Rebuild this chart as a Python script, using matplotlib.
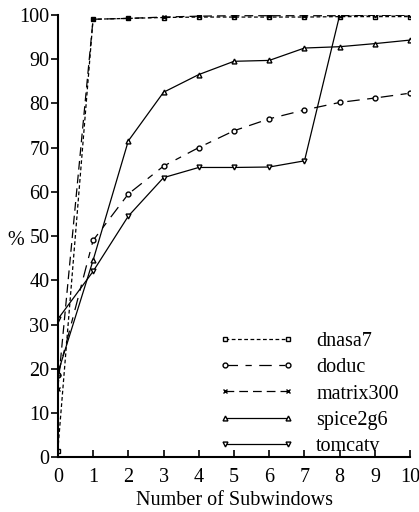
import matplotlib
matplotlib.use("Agg")
import matplotlib.pyplot as plt

plt.rcParams['font.family'] = ['Liberation Serif', 'DejaVu Serif']
plt.rcParams['font.size'] = 14.5

x = [0, 1, 2, 3, 4, 5, 6, 7, 8, 9, 10]
dnasa7 = [1.5, 99.0, 99.2, 99.4, 99.5, 99.5, 99.5, 99.5, 99.6, 99.6, 99.6]
doduc = [18.5, 49.0, 59.5, 65.8, 70.0, 73.8, 76.5, 78.5, 80.2, 81.2, 82.3]
matrix300 = [15.5, 99.0, 99.2, 99.5, 99.7, 99.8, 99.8, 99.8, 99.8, 99.9, 99.9]
spice2g6 = [19.0, 44.5, 71.5, 82.5, 86.5, 89.5, 89.7, 92.5, 92.8, 93.5, 94.3]
tomcatv = [31.2, 42.0, 54.5, 63.2, 65.5, 65.5, 65.6, 67.0, 100.0, 100.0, 100.0]

fig = plt.figure(figsize=(4.19, 5.12), dpi=100)
ax = fig.add_axes([0.138, 0.107, 0.841, 0.864])

ms = 3.5
ax.plot(x, dnasa7, color='black', lw=0.9, dashes=(3, 2), marker='s', ms=ms, mfc='white', label='dnasa7')
ax.plot(x, doduc, color='black', lw=0.9, dashes=(10, 6, 5, 6), marker='o', ms=ms, mfc='white', label='doduc')
ax.plot(x, matrix300, color='black', lw=0.9, dashes=(7, 4), marker='x', ms=ms, label='matrix300')
ax.plot(x, spice2g6, color='black', lw=0.9, marker='^', ms=ms, mfc='white', label='spice2g6')
ax.plot(x, tomcatv, color='black', lw=0.9, marker='v', ms=ms, mfc='white', label='tomcatv')

ax.set_xlim(0, 10)
ax.set_ylim(0, 100)
ax.set_xticks(range(0, 11))
ax.set_yticks(range(0, 101, 10))
ax.spines['top'].set_visible(False)
ax.spines['right'].set_visible(False)
ax.spines['left'].set_linewidth(1.5)
ax.spines['bottom'].set_linewidth(1.5)
ax.tick_params(axis='y', direction='out', length=5, width=1.2, pad=1)
ax.tick_params(axis='x', direction='in', length=5, width=1.2, pad=8)

ax.set_xlabel('Number of Subwindows', labelpad=3)
ax.set_ylabel('%', rotation=0, labelpad=0, va='center')
ax.yaxis.set_label_coords(-0.12, 0.49)

ax.legend(loc='lower right', frameon=False, numpoints=2, handlelength=3.7,
          handletextpad=1.1, labelspacing=0.35, borderaxespad=0.0,
          bbox_to_anchor=(0.99, -0.015))

fig.savefig('out.png', dpi=100)
